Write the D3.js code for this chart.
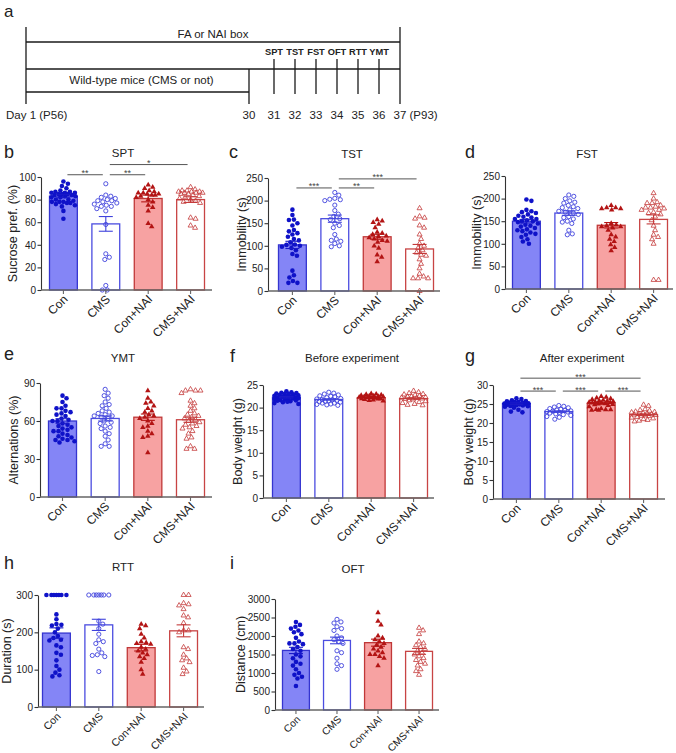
<!DOCTYPE html>
<html><head><meta charset="utf-8">
<script src="https://cdn.jsdelivr.net/npm/d3@7"></script>
<style>
body{margin:0;background:#fff;}
svg{display:block;font-family:"Liberation Sans",Arial,sans-serif;}
</style></head>
<body><svg id="c" width="676" height="753"></svg>
<script>
// ---------- DATA ----------
const groups = ["Con", "CMS", "Con+NAI", "CMS+NAI"];

// timeline (panel a)
const timelineDays = [1, 30, 31, 32, 33, 34, 35, 36, 37];
const timelineDayLabels = ["Day 1 (P56)", "30", "31", "32", "33", "34", "35", "36", "37 (P93)"];
const testDays = [31, 32, 33, 34, 35, 36];
const testNames = ["SPT", "TST", "FST", "OFT", "RTT", "YMT"];

// b: SPT
const sptValues = [
  [96,94,92,90,88,87,87,86,86,86,85,85,85,84,84,83,83,82,82,80,80,79,78,78,78,77,77,76,75,74,70,63],
  [94,84,83,82,81,80,79,79,78,77,76,75,74,74,72,70,58,32,29,27,4,0,0],
  [93,91,90,88,87,86,86,85,85,84,84,83,82,80,78,75,73,70,59,56],
  [91,89,88,88,87,87,87,86,86,86,85,85,84,83,82,81,80,79,78,77,64,63,57,55]
];
const sptMean = [83, 58.5, 81, 80];
const sptSem = [1.4, 6.5, 3, 2.5];
const sptTicks = [0, 20, 40, 60, 80, 100];
const sptSig = [{from:0,to:1,y:102,label:"**"},{from:1,to:2,y:102,label:"**"},{from:1,to:3,y:111,label:"*"}];

// c: TST
const tstValues = [
  [180,168,158,157,150,145,135,132,128,125,120,115,112,108,103,102,100,98,95,90,82,78,45,35,30,22,18,18],
  [218,212,205,203,202,200,190,178,170,165,160,158,150,145,140,125,115,112,110,105,100,98],
  [158,155,152,148,140,130,128,125,122,120,118,115,112,110,108,100,95,80,75,65],
  [183,165,162,160,145,140,125,115,105,100,95,90,85,80,78,70,60,50,38,32,28,28,28,0]
];
const tstMean = [102, 160, 120, 93];
const tstSem = [8, 8, 5.5, 10];
const tstTicks = [0, 50, 100, 150, 200, 250];
const tstSig = [{from:0,to:1,y:228,label:"***"},{from:1,to:2,y:228,label:"**"},{from:1,to:3,y:248,label:"***"}];

// d: FST
const fstValues = [
  [198,195,175,172,170,168,165,162,160,158,155,155,152,150,150,148,145,142,140,138,135,132,130,128,125,122,120,115,110,105,100],
  [208,205,200,195,192,190,185,182,180,178,175,172,170,168,165,160,158,155,150,148,145,130,122,120],
  [185,180,180,178,178,175,145,142,140,138,138,135,130,120,115,110,105,98,92,85],
  [212,200,192,190,190,185,182,180,180,178,175,175,170,168,165,160,152,140,130,120,115,110,100,20,20]
];
const fstMean = [150, 168, 141, 154];
const fstSem = [4, 5, 6, 10];
const fstTicks = [0, 50, 100, 150, 200, 250];

// e: YMT
const ymtValues = [
  [80,78,75,72,70,70,68,67,66,65,64,62,61,60,60,58,57,56,55,54,53,52,52,50,49,48,47,46,45,45,44,43],
  [85,82,80,78,75,73,72,70,68,67,66,65,64,64,63,62,60,59,58,56,55,54,52,50,48,45,42,40,40],
  [84,78,75,74,72,70,68,67,65,64,63,62,60,58,56,55,52,50,48,47,35],
  [85,84,84,84,82,76,74,72,70,68,66,65,64,63,62,61,60,59,58,57,56,55,54,52,50,47,46,40,38,38]
];
const ymtMean = [60, 62, 63, 61];
const ymtSem = [1.8, 2, 2.5, 2];
const ymtTicks = [0, 30, 60, 90];

// f: body weight before
const bwBeforeValues = [
  [23.6,23.4,23.3,23.2,23.1,23.0,23.0,22.9,22.8,22.7,22.6,22.5,22.5,22.4,22.3,22.2,22.1,22.0,22.0,21.9,21.8,21.7,21.6,21.5,21.4,21.3,21.2,21.0,20.8],
  [23.4,23.2,23.0,22.8,22.6,22.5,22.4,22.2,22.0,21.9,21.8,21.7,21.6,21.5,21.4,21.3,21.2,21.0,21.0,20.8,20.7,20.6,20.5],
  [23.1,23.0,22.9,22.8,22.7,22.6,22.6,22.5,22.4,22.4,22.3,22.2,22.2,22.1,22.0,22.0,21.9,21.8,21.7,21.6,21.5],
  [23.7,23.4,23.2,23.0,22.9,22.8,22.6,22.5,22.4,22.3,22.2,22.1,22.0,21.9,21.8,21.6,21.4,21.2,21.0,20.8,20.6,20.5]
];
const bwBeforeMean = [22.3, 21.8, 22.2, 22.0];
const bwBeforeSem = [0.15, 0.15, 0.12, 0.15];
const bwBeforeTicks = [0, 5, 10, 15, 20, 25];

// g: body weight after
const bwAfterValues = [
  [26.5,26.3,26.0,25.8,25.7,25.6,25.5,25.4,25.3,25.2,25.1,25.0,25.0,24.9,24.8,24.7,24.6,24.5,24.4,24.3,24.0,23.5,23.0,22.8],
  [24.6,24.4,24.2,24.0,23.8,23.6,23.4,23.3,23.2,23.1,23.0,22.9,22.8,22.6,22.4,22.2,22.0,21.7,21.5,21.0],
  [27.0,26.8,26.6,26.4,26.2,26.0,25.9,25.8,25.7,25.6,25.5,25.4,25.3,25.2,25.1,25.0,24.9,24.8,24.6,24.3,23.8,23.6,23.5,23.5,23.4,23.4],
  [24.8,24.5,23.6,23.4,23.2,23.0,22.9,22.8,22.6,22.5,22.4,22.3,22.2,22.1,22.0,21.9,21.8,21.6,21.4,21.2,21.0,20.8,20.6,20.4]
];
const bwAfterMean = [25.1, 23.0, 25.2, 22.2];
const bwAfterSem = [0.2, 0.2, 0.15, 0.2];
const bwAfterTicks = [0, 5, 10, 15, 20, 25, 30];
const bwAfterSig = [{from:0,to:3,y:31.8,label:"***"},{from:0,to:1,y:28.4,label:"***"},{from:1,to:2,y:28.4,label:"***"},{from:2,to:3,y:28.4,label:"***"}];

// h: RTT
const rttValues = [
  [300,300,300,300,300,300,300,248,235,222,220,218,210,200,190,185,180,178,165,160,145,140,125,110,100,92,85,82],
  [300,300,300,300,300,300,300,230,222,210,195,180,175,170,155,145,140,138,135,95],
  [222,218,210,195,185,175,172,170,168,160,155,150,145,140,135,130,120,100,88],
  [300,300,278,275,272,262,245,240,225,205,205,200,160,155,140,130,125,120,105,95,88]
];
const rttMean = [198, 220, 159, 204];
const rttSem = [14, 15, 9, 16];
const rttTicks = [0, 100, 200, 300];

// i: OFT
const oftValues = [
  [2380,2300,2250,2200,2150,2100,2050,1950,1850,1800,1800,1780,1700,1650,1600,1500,1450,1400,1300,1250,1200,1100,1000,950,900,850,650],
  [2450,2380,2350,2250,2200,2150,2000,1950,1900,1850,1800,1600,1550,1400,1250,1200,1100],
  [2630,2400,2300,2000,1950,1900,1850,1800,1750,1700,1650,1600,1550,1500,1500,1450,1400,1200],
  [2220,2150,2050,1850,1800,1750,1700,1650,1600,1550,1500,1450,1400,1350,1300,1250,1200,1100,1050,950]
];
const oftMean = [1610, 1880, 1820, 1585];
const oftSem = [85, 90, 95, 80];
const oftTicks = [0, 500, 1000, 1500, 2000, 2500, 3000];

// ---------- STYLE / LAYOUT ----------
const groupStyle = [
  {fill:"#8485f6", stroke:"#3535d0", marker:"circle", mfill:"#0f12c8", mstroke:"none", err:"#1a1ac8"},
  {fill:"#ffffff", stroke:"#4b4de0", marker:"circle", mfill:"none", mstroke:"#3f42dc", err:"#3f42dc"},
  {fill:"#f7a2a2", stroke:"#c03838", marker:"triangle", mfill:"#b31414", mstroke:"none", err:"#b31414"},
  {fill:"#ffffff", stroke:"#c84444", marker:"triangle", mfill:"none", mstroke:"#c43a3a", err:"#c43a3a"}
];

const panels = [
  {letter:"b", title:"SPT", ylab:"Sucrose pref. (%)", vals:sptValues, mean:sptMean, sem:sptSem, ticks:sptTicks, sig:sptSig,
   ax:41, bx0:49, bx1:205, ax1:212, yTop:177, yBot:290, ylabX:13, lx:4, ly:158, tx:123, ty:157, xf:12},
  {letter:"c", title:"TST", ylab:"Immobility (s)", vals:tstValues, mean:tstMean, sem:tstSem, ticks:tstTicks, sig:tstSig,
   ax:268, bx0:278, bx1:434, ax1:440, yTop:178, yBot:291, ylabX:242, lx:229, ly:158, tx:352, ty:158, xf:12},
  {letter:"d", title:"FST", ylab:"Immobility (s)", vals:fstValues, mean:fstMean, sem:fstSem, ticks:fstTicks, sig:[],
   ax:505, bx0:512, bx1:668, ax1:673, yTop:176, yBot:289, ylabX:477, lx:465, ly:158, tx:587, ty:158, xf:12},
  {letter:"e", title:"YMT", ylab:"Alternations (%)", vals:ymtValues, mean:ymtMean, sem:ymtSem, ticks:ymtTicks, sig:[],
   ax:40, bx0:48, bx1:205, ax1:212, yTop:383, yBot:497, ylabX:14, lx:4, ly:360, tx:123, ty:362, xf:12},
  {letter:"f", title:"Before experiment", ylab:"Body weight (g)", vals:bwBeforeValues, mean:bwBeforeMean, sem:bwBeforeSem, ticks:bwBeforeTicks, sig:[],
   ax:263, bx0:272, bx1:428, ax1:434, yTop:385, yBot:498, ylabX:238, lx:230, ly:362, tx:352, ty:362, xf:12},
  {letter:"g", title:"After experiment", ylab:"Body weight (g)", vals:bwAfterValues, mean:bwAfterMean, sem:bwAfterSem, ticks:bwAfterTicks, sig:bwAfterSig,
   ax:493, bx0:502, bx1:658, ax1:665, yTop:385, yBot:499, ylabX:469, lx:465, ly:362, tx:582, ty:362, xf:12},
  {letter:"h", title:"RTT", ylab:"Duration (s)", vals:rttValues, mean:rttMean, sem:rttSem, ticks:rttTicks, sig:[],
   ax:38, bx0:42, bx1:198, ax1:204, yTop:595, yBot:707, ylabX:7, lx:4, ly:569, tx:123, ty:571, xf:10.6},
  {letter:"i", title:"OFT", ylab:"Distance (cm)", vals:oftValues, mean:oftMean, sem:oftSem, ticks:oftTicks, sig:[],
   ax:275, bx0:282, bx1:433, ax1:439, yTop:599, yBot:710, ylabX:241, lx:230, ly:569, tx:353, ty:573, xf:10.2}
];

const svg = d3.select("#c");
const TXT = "#222";

// ---------- PANEL a: timeline ----------
(function(){
  const g = svg.append("g");
  const x = d3.scaleLinear().domain([1, 30, 31, 37]).range([26, 249, 274, 400]);
  g.append("text").attr("x", 4).attr("y", 17).attr("font-size", 17).attr("fill", TXT).text("a");
  const ln = (x1,y1,x2,y2)=>g.append("line").attr("x1",x1).attr("y1",y1).attr("x2",x2).attr("y2",y2)
      .attr("stroke","#1a1a1a").attr("stroke-width",1.3);
  const d0 = x(1), d30 = x(30), d37 = x(37);
  ln(d0, 27, d0, 104); ln(d37, 27, d37, 104);
  ln(d0, 42, d37, 42); ln(d0, 69, d37, 69); ln(d0, 92, d30, 92); ln(d30, 69, d30, 104);
  testDays.forEach((d,i)=>{
    ln(x(d), 59, x(d), 94);
    g.append("text").attr("x", x(d)).attr("y", 55).attr("text-anchor","middle")
     .attr("font-size", 9.3).attr("font-weight","bold").attr("fill", TXT).text(testNames[i]);
  });
  g.append("text").attr("x", (d0+d37)/2).attr("y", 38).attr("text-anchor","middle").attr("font-size", 11.5).attr("fill", TXT).text("FA or NAI box");
  g.append("text").attr("x", (d0+d30)/2 + 4).attr("y", 84).attr("text-anchor","middle").attr("font-size", 11.5).attr("fill", TXT).text("Wild-type mice (CMS or not)");
  timelineDays.forEach((d,i)=>{
    const t = g.append("text").attr("y", 119).attr("font-size", 11.5).attr("fill", TXT).text(timelineDayLabels[i]);
    if (i === 0) t.attr("x", 6);
    else if (i === timelineDays.length - 1) t.attr("x", x(d) - 6.5);
    else t.attr("x", x(d)).attr("text-anchor","middle");
  });
})();

// ---------- beeswarm layout ----------
function swarm(vals, y, cx, diam, maxHalf){
  const pts = vals.map(v=>({v, py:y(v)})).sort((a,b)=>b.v-a.v);
  const placed = [];
  pts.forEach(p=>{
    let chosen = null, bestOff = 0, bestMin = -1;
    for (let k=0; k<=Math.ceil(maxHalf/0.5)*2; k++){
      const off = (k%2===1 ? 1 : -1) * Math.ceil(k/2) * 0.5;
      if (Math.abs(off) > maxHalf) continue;
      let minD = Infinity;
      for (const q of placed){
        const dd = Math.hypot(q.px - (cx+off), q.py - p.py);
        if (dd < minD) minD = dd;
      }
      if (minD >= diam){ chosen = off; break; }
      if (minD > bestMin){ bestMin = minD; bestOff = off; }
    }
    p.px = cx + (chosen === null ? bestOff : chosen);
    placed.push(p);
  });
  return placed;
}

// ---------- bar panels ----------
panels.forEach(P=>{
  const g = svg.append("g");
  const yMax = P.ticks[P.ticks.length-1];
  const y = d3.scaleLinear().domain([0, yMax]).range([P.yBot, P.yTop]);
  const x = d3.scaleBand().domain(groups).range([P.bx0, P.bx1]).paddingInner(0.32).paddingOuter(0);
  const bw = x.bandwidth();

  g.append("text").attr("x", P.lx).attr("y", P.ly).attr("font-size", 18).attr("fill", TXT).text(P.letter);
  g.append("text").attr("x", P.tx).attr("y", P.ty).attr("text-anchor","middle").attr("font-size", 11.5).attr("fill", TXT).text(P.title);

  groups.forEach((gr,i)=>{
    const s = groupStyle[i];
    g.append("rect").attr("x", x(gr)+0.5).attr("y", y(P.mean[i])).attr("width", bw-1)
      .attr("height", P.yBot - y(P.mean[i])).attr("fill", s.fill).attr("stroke", s.stroke).attr("stroke-width", 1.3);
  });

  groups.forEach((gr,i)=>{
    const s = groupStyle[i];
    const cx = x(gr) + bw/2;
    const pts = swarm(P.vals[i], y, cx, 4.7, bw/2 - 2);
    pts.forEach(p=>{
      if (s.marker === "circle"){
        g.append("circle").attr("cx", p.px).attr("cy", p.py).attr("r", s.mfill==="none"?2.1:2.3)
          .attr("fill", s.mfill).attr("stroke", s.mstroke).attr("stroke-width", 0.9);
      } else {
        g.append("path").attr("d", d3.symbol(d3.symbolTriangle).size(s.mfill==="none"?11:13)())
          .attr("transform", `translate(${p.px},${p.py})`)
          .attr("fill", s.mfill).attr("stroke", s.mstroke).attr("stroke-width", 0.8);
      }
    });
  });

  groups.forEach((gr,i)=>{
    const s = groupStyle[i];
    const cx = x(gr) + bw/2;
    const lo = y(P.mean[i] - P.sem[i]), hi = y(P.mean[i] + P.sem[i]);
    g.append("line").attr("x1", cx).attr("x2", cx).attr("y1", lo).attr("y2", hi).attr("stroke", s.err).attr("stroke-width", 1.1);
    [lo, hi].forEach(yy=>g.append("line").attr("x1", cx-7).attr("x2", cx+7).attr("y1", yy).attr("y2", yy).attr("stroke", s.err).attr("stroke-width", 1.1));
  });

  const ya = g.append("g").attr("transform", `translate(${P.ax},0)`)
    .call(d3.axisLeft(y).tickValues(P.ticks).tickSize(3.5).tickPadding(1.5).tickSizeOuter(0).tickFormat(d3.format("d")));
  ya.select(".domain").attr("stroke", "#333").attr("stroke-width", 1.1);
  ya.selectAll(".tick line").attr("stroke", "#333").attr("stroke-width", 1.1);
  ya.selectAll(".tick text").attr("font-size", 10).attr("fill", TXT).attr("font-family", "Liberation Sans, Arial, sans-serif");

  g.append("line").attr("x1", P.ax).attr("x2", P.ax1).attr("y1", P.yBot).attr("y2", P.yBot).attr("stroke", "#666").attr("stroke-width", 1.4);
  groups.forEach(gr=>{
    const cx = x(gr) + bw/2;
    g.append("line").attr("x1", cx).attr("x2", cx).attr("y1", P.yBot).attr("y2", P.yBot+4).attr("stroke", "#666").attr("stroke-width", 1.1);
    g.append("text").attr("transform", `translate(${cx+5},${P.yBot+10}) rotate(-45)`)
      .attr("text-anchor","end").attr("font-size", P.xf).attr("fill", TXT).text(gr);
  });

  g.append("text").attr("transform", `translate(${P.ylabX},${(P.yTop+P.yBot)/2}) rotate(-90)`)
    .attr("text-anchor","middle").attr("dominant-baseline","central").attr("font-size", 12.5).attr("fill", TXT).text(P.ylab);

  P.sig.forEach(sg=>{
    const x1 = x(groups[sg.from]) + bw/2 + 4, x2 = x(groups[sg.to]) + bw/2 - 3;
    const yy = y(sg.y);
    g.append("line").attr("x1", x1).attr("x2", x2).attr("y1", yy).attr("y2", yy).attr("stroke", "#555").attr("stroke-width", 1);
    g.append("text").attr("x", (x1+x2)/2).attr("y", yy + 1.5).attr("text-anchor","middle").attr("font-size", 9).attr("fill", "#444").text(sg.label);
  });
});
</script>
</body></html>
